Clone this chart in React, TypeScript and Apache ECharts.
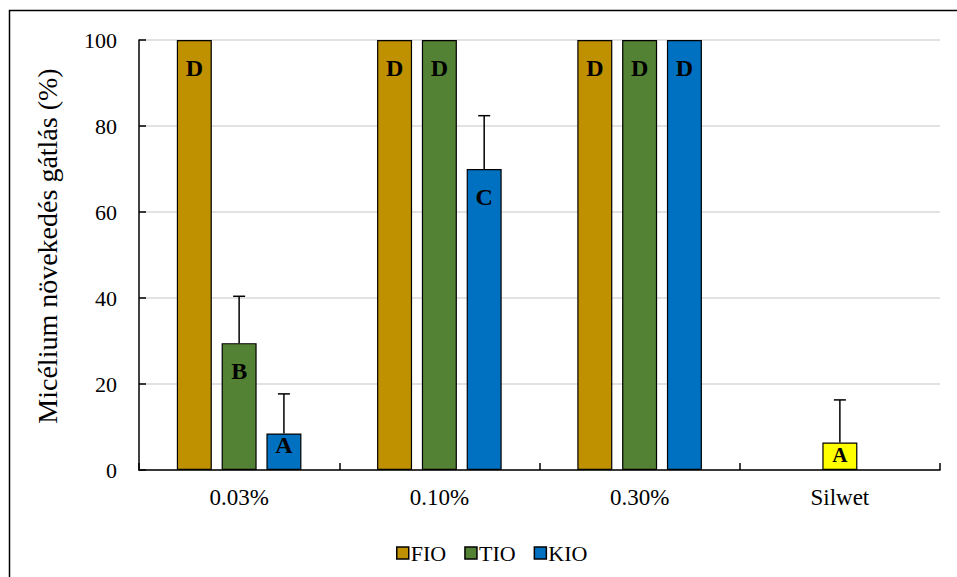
import React, { useEffect, useRef } from "react";
import * as echarts from "echarts";

const categories = ["0.03%", "0.10%", "0.30%", "Silwet"];
const seriesNames = ["FIO", "TIO", "KIO"];
const colors = ["#BF9000", "#548235", "#0070C0"];
const silwetColor = "#FFFF00";

const fioValues: (number | null)[] = [100, 100, 100, null];
const tioValues: (number | null)[] = [29.5, 100, 100, 6.4];
const kioValues: (number | null)[] = [8.5, 70, 100, null];

const fioErrors = [0, 0, 0, 0];
const tioErrors = [10.9, 0, 0, 9.9];
const kioErrors = [9.2, 12.4, 0, 0];

const fioLetters = ["D", "D", "D", ""];
const tioLetters = ["B", "D", "D", "A"];
const kioLetters = ["A", "C", "D", ""];

const yTicks = [0, 20, 40, 60, 80, 100];
const yAxisTitle = "Micélium növekedés gátlás (%)";

const FONT = "Liberation Serif";
const BAR_W = 35;
const BAR_GAP = 0.28;

export default function App() {
  const ref = useRef<HTMLDivElement>(null);

  useEffect(() => {
    document.body.style.margin = "0";
    if (!ref.current) return;
    const chart = echarts.init(ref.current, undefined, { renderer: "svg" });

    const valuesAll = [fioValues, tioValues, kioValues];
    const errorsAll = [fioErrors, tioErrors, kioErrors];
    const lettersAll = [fioLetters, tioLetters, kioLetters];

    const barSeries = valuesAll.map((vals, si) => ({
      name: seriesNames[si],
      type: "bar",
      barWidth: BAR_W,
      barGap: BAR_GAP * 100 + "%",
      itemStyle: { color: colors[si], borderColor: "#000", borderWidth: 1.2 },
      label: {
        show: true,
        position: "insideTop",
        distance: 16,
        fontFamily: FONT,
        fontWeight: "bold",
        fontSize: 24,
        color: "#000",
        formatter: (p: any) => lettersAll[si][p.dataIndex] || "",
      },
      data: vals.map((v, i) => {
        if (v === null) return null;
        const item: any = { value: v };
        if (si === 1 && categories[i] === "Silwet") {
          item.itemStyle = { color: silwetColor };
          item.label = { distance: 2, fontSize: 21 };
        } else if (v < 15) {
          item.label = { distance: 0 };
        }
        return item;
      }),
    }));

    const errorSeries = errorsAll.map((errs, si) => ({
      name: seriesNames[si] + " err",
      type: "custom",
      z: 5,
      encode: { x: 0, y: 1 },
      data: errs
        .map((e, i) => [i, valuesAll[si][i], e])
        .filter((d) => (d[2] as number) > 0 && d[1] !== null),
      renderItem: (params: any, api: any) => {
        const ci = api.value(0);
        const v = api.value(1);
        const e = api.value(2);
        const base = api.coord([ci, v]);
        const top = api.coord([ci, v + e]);
        const x = base[0] + (si - 1) * BAR_W * (1 + BAR_GAP);
        return {
          type: "group",
          children: [
            {
              type: "line",
              shape: { x1: x, y1: base[1], x2: x, y2: top[1] },
              style: { stroke: "#000", lineWidth: 1.5 },
            },
            {
              type: "line",
              shape: { x1: x - 6, y1: top[1], x2: x + 6, y2: top[1] },
              style: { stroke: "#000", lineWidth: 1.5 },
            },
          ],
        };
      },
    }));

    chart.setOption({
      animation: false,
      backgroundColor: "#fff",
      textStyle: { fontFamily: FONT },
      graphic: [
        {
          type: "rect",
          shape: { x: 9.5, y: 10.5, width: 1000, height: 1000 },
          style: { fill: "none", stroke: "#000", lineWidth: 1.5 },
          silent: true,
        },
        {
          type: "text",
          x: 47,
          y: 246,
          rotation: Math.PI / 2,
          style: {
            text: yAxisTitle,
            fontFamily: FONT,
            fontSize: 28,
            fill: "#000",
            align: "center",
            verticalAlign: "middle",
          },
          silent: true,
        },
      ],
      grid: { left: 139, right: 17, top: 40, bottom: 107, containLabel: false },
      legend: {
        data: seriesNames,
        left: 391,
        top: 537,
        icon: "rect",
        itemWidth: 12,
        itemHeight: 12,
        itemGap: 18,
        textStyle: { fontFamily: FONT, fontSize: 22, color: "#000", padding: [0, 0, 0, -3] },
        itemStyle: { borderColor: "#000", borderWidth: 1.5 },
      },
      xAxis: {
        type: "category",
        data: categories,
        boundaryGap: true,
        axisLine: { lineStyle: { color: "#000", width: 1.5 } },
        axisTick: { show: true, inside: true, length: 7, lineStyle: { color: "#000", width: 1.5 } },
        axisLabel: { fontFamily: FONT, fontSize: 23, color: "#000", margin: 16 },
      },
      yAxis: {
        type: "value",
        min: 0,
        max: 100,
        interval: 20,
        axisLine: { show: true, lineStyle: { color: "#000", width: 1.5 } },
        axisTick: { show: true, inside: true, length: 7, lineStyle: { color: "#000", width: 1.5 } },
        axisLabel: {
          fontFamily: FONT,
          fontSize: 22,
          color: "#000",
          margin: 22,
          formatter: (v: number) => (yTicks.includes(v) ? String(v) : ""),
        },
        splitLine: { lineStyle: { color: "#d9d9d9", width: 1.5 } },
      },
      series: [...barSeries, ...errorSeries],
    });

    return () => chart.dispose();
  }, []);

  return <div ref={ref} style={{ width: 957, height: 577 }} />;
}
